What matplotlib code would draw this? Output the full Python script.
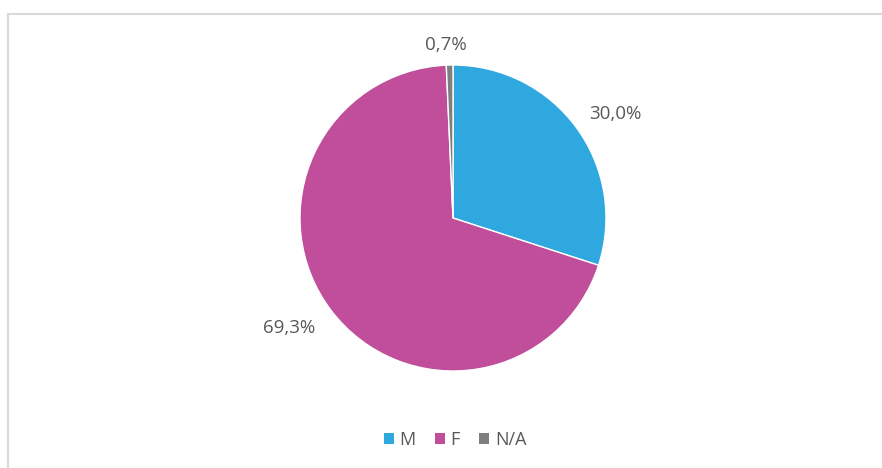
import numpy as np
import matplotlib.pyplot as plt
from matplotlib.lines import Line2D
from matplotlib.patches import Patch

# Share by sex
categories = ["M", "F", "N/A"]
shares = [30.0, 69.3, 0.7]
colors = ["#2EA8DF", "#C04E9B", "#7F7F7F"]
# label placement: radius factor and angular nudge (deg) per slice
label_dist = [1.26, 1.29, 1.134]
label_shift = [-3.5, -3.5, 1.0]

plt.rcParams['font.family'] = ['Open Sans', 'DejaVu Sans']

W, H = 882, 468
fig = plt.figure(figsize=(W / 100, H / 100), dpi=100)
ax = fig.add_axes([0, 0, 1, 1])

cx, cy, r = 453, H - 218, 153
wedges, _ = ax.pie(shares, colors=colors, startangle=90, counterclock=False,
                   center=(cx, cy), radius=r, frame=True,
                   wedgeprops=dict(edgecolor='white', linewidth=1.0))
ax.set_xlim(0, W)
ax.set_ylim(0, H)
ax.set_aspect('equal')
ax.axis('off')

for w, v, d, s in zip(wedges, shares, label_dist, label_shift):
    mid = np.deg2rad((w.theta1 + w.theta2) / 2 + s)
    x = cx + r * d * np.cos(mid)
    y = cy + r * d * np.sin(mid)
    ax.text(x, y, f"{v:.1f}%".replace('.', ','), ha='center', va='center',
            fontsize=13.5, color='#595959')

# chart frame (left and top edges)
fig.add_artist(Line2D([8 / W, 8 / W], [0, 1 - 14 / H], transform=fig.transFigure,
                      color='#D9D9D9', linewidth=1.5))
fig.add_artist(Line2D([8 / W, 1], [1 - 14 / H, 1 - 14 / H], transform=fig.transFigure,
                      color='#D9D9D9', linewidth=1.5))

handles = [Patch(facecolor=c, edgecolor='none') for c in colors]
leg = fig.legend(handles, categories, loc='center', bbox_to_anchor=(455 / W, 1 - 440 / H),
                 ncol=3, frameon=False, fontsize=13, handlelength=0.55, handleheight=0.55,
                 handletextpad=0.3, columnspacing=1.1)
for t in leg.get_texts():
    t.set_color('#595959')

fig.savefig("out.png", dpi=100)
